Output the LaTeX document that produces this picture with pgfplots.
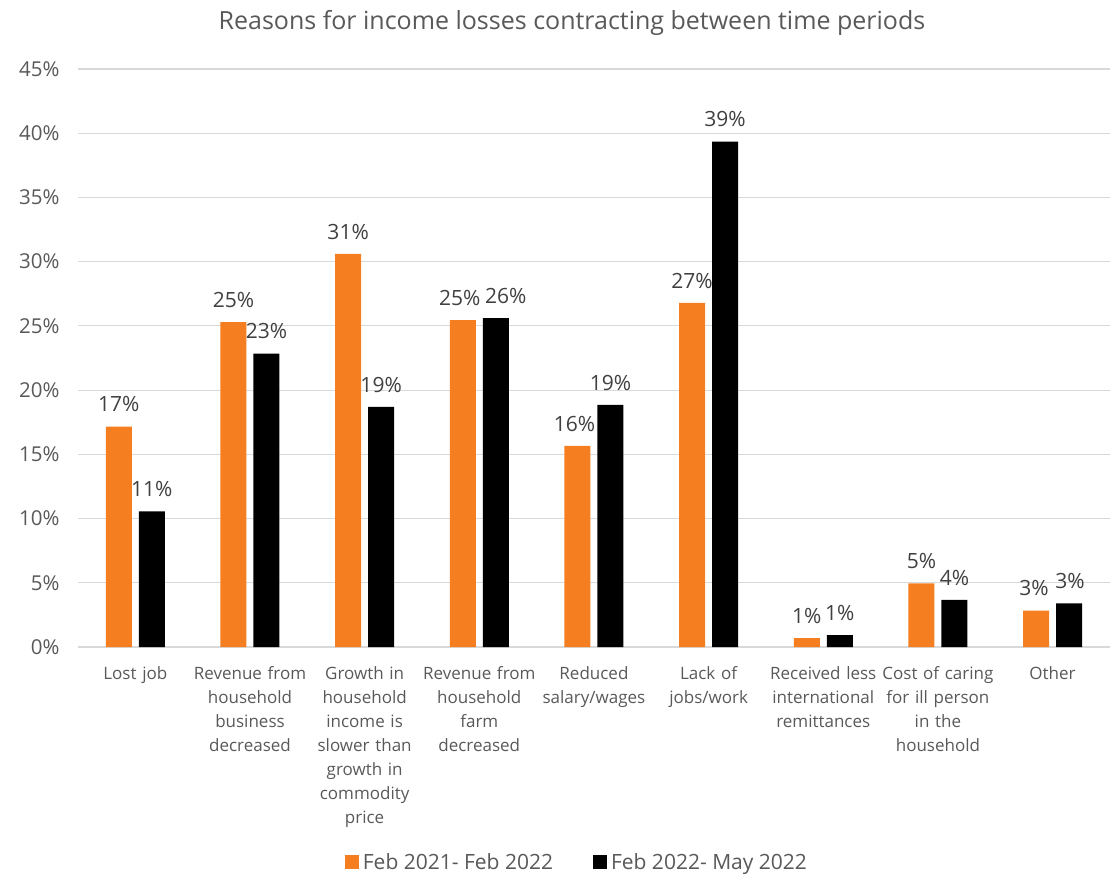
\documentclass[border=0pt]{standalone}
\usepackage{fontspec}
\setmainfont{Open Sans}
\usepackage{pgfplots}
\usepackage{pgfplotstable}
\pgfplotsset{compat=1.18}
\definecolor{barorange}{HTML}{F47E20}
\definecolor{txtgray}{HTML}{595959}
\definecolor{gridgray}{HTML}{D9D9D9}
\pgfplotstableread{
x y dx
0 17.15 0
1 25.3 0
2 30.6 0
3 25.45 -3
4 15.65 -3
5 26.8 0
6 0.7 0
7 4.96 0
8 2.83 -2
}\tabA
\pgfplotstableread{
x y dx
0 10.55 0
1 22.85 0
2 18.7 0
3 25.6 10
4 18.85 0
5 39.35 0
6 0.93 0
7 3.66 0
8 3.4 1
}\tabB
\begin{document}
\begin{tikzpicture}
\useasboundingbox (0,0) rectangle (1111pt,876pt);
\begin{axis}[
  at={(78pt,229pt)}, anchor=south west,
  scale only axis, width=1032pt, height=578pt,
  ymin=0, ymax=45, xmin=-0.5, xmax=8.5,
  ytick={0,5,...,45},
  /pgf/number format/assume math mode=true,
  yticklabel={\pgfmathprintnumber{\tick}\%},
  yticklabel style={font=\fontsize{20.5pt}{24pt}\selectfont, text=txtgray, xshift=-15pt},
  xtick={0,...,8},
  xticklabels={
    {Lost job},
    {Revenue from\\household\\business\\decreased},
    {Growth in\\household\\income is\\slower than\\growth in\\commodity\\price},
    {Revenue from\\household\\farm\\decreased},
    {Reduced\\salary/wages},
    {Lack of\\jobs/work},
    {Received less\\international\\remittances},
    {Cost of caring\\for ill person\\in the\\household},
    {Other}},
  xticklabel style={font=\fontsize{17pt}{24pt}\selectfont, text=txtgray, align=center, text width=118pt, yshift=-16pt},
  major tick length=0pt,
  ymajorgrids, grid style={gridgray, line width=1.2pt},
  axis line style={draw=none},
  ybar=7pt, bar width=26pt,
  visualization depends on={\thisrow{dx} \as \dx},
  nodes near coords={\pgfmathprintnumber[fixed,precision=0]{\pgfplotspointmeta}\%},
  nodes near coords style={font=\fontsize{21pt}{24pt}\selectfont, text=black!75, yshift=11pt, xshift=\dx pt},
  title={Reasons for income losses contracting between time periods},
  title style={font=\fontsize{25pt}{30pt}\selectfont, text=txtgray, at={(axis description cs:0.4787,1)}, anchor=center, yshift=40pt},
  legend style={draw=none, at={(axis description cs:0.4835,-0.372)}, anchor=center,
    font=\fontsize{21pt}{24pt}\selectfont, text=txtgray, legend columns=2,
    /tikz/every odd column/.append style={column sep=2pt},
    /tikz/every even column/.append style={column sep=38pt}},
  legend image code/.code={\fill[#1,draw=none] (0pt,-7pt) rectangle (14pt,7pt);},
]
\draw[gridgray, line width=1.2pt] (axis cs:-0.5,0) -- (axis cs:8.5,0);
\addplot[fill=barorange, draw=none] table[x=x,y=y] {\tabA};
\addplot[fill=black, draw=none] table[x=x,y=y] {\tabB};
\legend{Feb 2021- Feb 2022, Feb 2022- May 2022}
\end{axis}
\end{tikzpicture}
\end{document}
